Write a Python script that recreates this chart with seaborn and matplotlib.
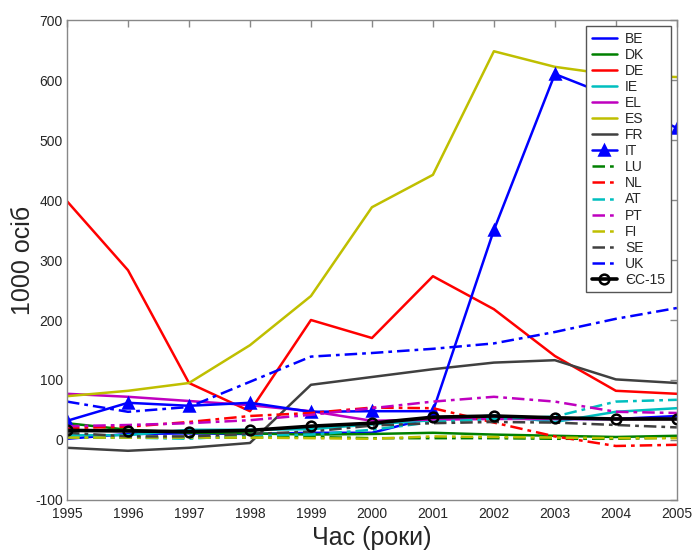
import numpy as np
import pandas as pd
import matplotlib
matplotlib.use("Agg")
import matplotlib.pyplot as plt
import seaborn as sns

years = list(range(1995, 2006))

# net migration, thousand persons
be = [2, 10, 11, 10, 12, 12, 38, 40, 35, 35, 40]
dk = [28, 17, 12, 11, 9, 10, 12, 9, 7, 5, 7]
de = [398, 283, 95, 48, 200, 170, 273, 218, 140, 82, 77]
ie = [8, 8, 17, 17, 18, 26, 33, 41, 30, 47, 53]
el = [77, 72, 65, 58, 48, 32, 34, 35, 35, 35, 35]
es = [73, 82, 95, 158, 240, 388, 442, 648, 622, 608, 605]
fr = [-13, -18, -13, -5, 92, 105, 118, 129, 133, 101, 95]
it = [32, 62, 57, 62, 47, 48, 48, 350, 610, 570, 520]
lu = [4, 4, 4, 4, 5, 3, 3, 3, 2, 2, 4]
nl = [20, 22, 30, 40, 45, 54, 53, 29, 6, -10, -8]
at = [5, 4, 2, 8, 9, 17, 30, 35, 39, 64, 67]
pt = [23, 25, 28, 33, 42, 53, 64, 72, 64, 47, 45]
fi = [4, 4, 4, 4, 3, 2, 6, 5, 4, 3, 3]
se = [12, 6, 6, 10, 14, 24, 28, 30, 29, 25, 21]
uk = [64, 47, 55, 97, 139, 145, 152, 161, 180, 202, 220]
ec15 = [16, 15, 14, 16, 23, 28, 38, 40, 37, 35, 35]

labels = ["BE", "DK", "DE", "IE", "EL", "ES", "FR", "IT",
          "LU", "NL", "AT", "PT", "FI", "SE", "UK", "ЄС-15"]
values = [be, dk, de, ie, el, es, fr, it, lu, nl, at, pt, fi, se, uk, ec15]

b, g, r = (0, 0, 1), (0, 0.5, 0), (1, 0, 0)
c, m, y, k = (0, 0.75, 0.75), (0.75, 0, 0.75), (0.75, 0.75, 0), (0.25, 0.25, 0.25)
colors = [b, g, r, c, m, y, k, b, g, r, c, m, y, k, b, "black"]

solid = "-"
dashdot = (0, (5, 2, 1.5, 2))
styles = [solid] * 8 + [dashdot] * 7 + [solid]
markers = [None] * 7 + ["^"] + [None] * 7 + ["o"]

df = pd.DataFrame({lab: vals for lab, vals in zip(labels, values)}, index=years)
df.index.name = "year"

sns.set_style("white")
plt.rcParams["font.family"] = ["Liberation Sans", "DejaVu Sans"]
plt.rcParams["axes.unicode_minus"] = False

fig = plt.figure(figsize=(6.93, 5.51), dpi=100)
ax = fig.add_axes([0.0967, 0.0926, 0.880, 0.871])

for i, lab in enumerate(labels):
    lw = 2.6 if lab == "ЄС-15" else 1.8
    sns.lineplot(x=df.index, y=df[lab], ax=ax, color=colors[i], linestyle=styles[i],
                 linewidth=lw, marker=markers[i], markersize=7,
                 markerfacecolor=("none" if markers[i] == "o" else colors[i]),
                 markeredgecolor=colors[i], markeredgewidth=1.8, label=lab)

ax.set_xlim(1995, 2005)
ax.set_ylim(-100, 700)
ax.set_xticks(years)
ax.set_yticks(range(-100, 701, 100))
ax.tick_params(direction="in", length=5, width=1, color="#888888",
               top=True, right=True, labelsize=10, pad=3)
ax.tick_params(axis="x", pad=5)
for sp in ax.spines.values():
    sp.set_color("#888888")
    sp.set_linewidth(1)
ax.set_xlabel("Час (роки)", fontsize=18, labelpad=4)
ax.set_ylabel("1000 осіб", fontsize=18)
ax.yaxis.set_label_coords(-0.052, 0.5)

leg = ax.legend(loc="upper right", bbox_to_anchor=(0.990, 0.9875), fontsize=10,
                frameon=True, fancybox=False, edgecolor="#555555", framealpha=1,
                handlelength=1.8, labelspacing=0.15, borderpad=0.4,
                handletextpad=0.6, borderaxespad=0)
leg.get_frame().set_linewidth(1)

fig.savefig("out.png", dpi=100)
